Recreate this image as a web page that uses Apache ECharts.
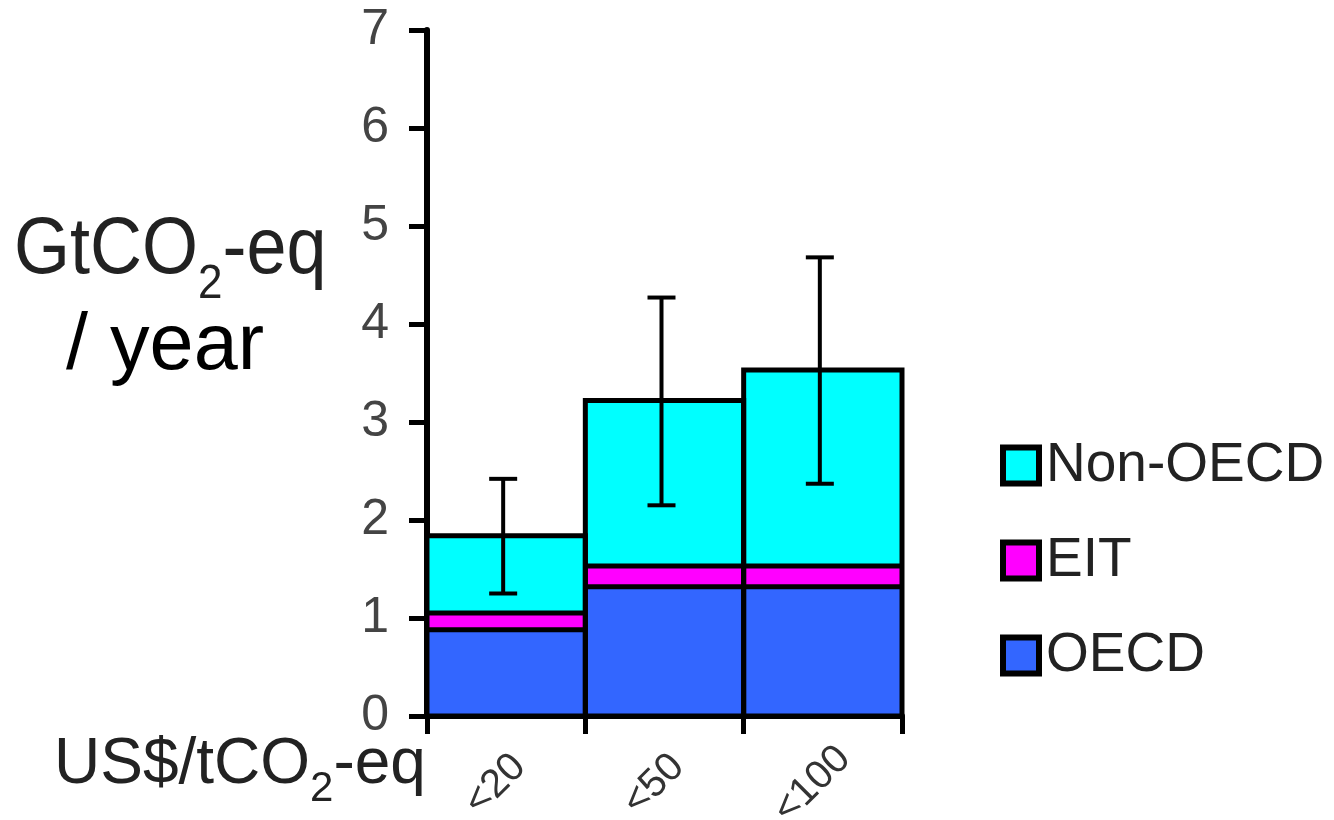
<!DOCTYPE html>
<html>
<head>
<meta charset="utf-8">
<script src="https://cdn.jsdelivr.net/npm/echarts@6/dist/echarts.min.js"></script>
<style>
html,body{margin:0;padding:0;background:#fff;}
#chart{width:1334px;height:820px;}
</style>
</head>
<body>
<div id="chart"></div>
<script>
const categories = ['<20', '<50', '<100'];
const seriesNames = ['OECD', 'EIT', 'Non-OECD'];
const oecd = [0.88, 1.32, 1.32];
const eit = [0.17, 0.21, 0.21];
const nonOecd = [0.79, 1.69, 2.00];
const errLow = [1.25, 2.15, 2.37];
const errHigh = [2.42, 4.27, 4.68];
const yTicks = [0, 1, 2, 3, 4, 5, 6, 7];
const colors = ['#3366FF', '#FF00FF', '#00FFFF'];

const FONT = 'Liberation Sans, Arial, sans-serif';
const chart = echarts.init(document.getElementById('chart'));

const errData = categories.map((c, i) => [i, errLow[i], errHigh[i]]);
const outlineData = categories.map((c, i) => [i, oecd[i], oecd[i] + eit[i], oecd[i] + eit[i] + nonOecd[i]]);

chart.setOption({
  animation: false,
  grid: { left: 427, right: 432, top: 30, bottom: 104, containLabel: false, outerBoundsMode: 'none' },
  legend: {
    orient: 'vertical',
    left: 1000,
    top: 438,
    padding: 0,
    itemWidth: 36,
    itemHeight: 36,
    itemGap: 40,
    icon: 'rect',
    data: ['Non-OECD', 'EIT', 'OECD'],
    itemStyle: { borderColor: '#000', borderWidth: 6 },
    textStyle: { fontFamily: FONT, fontSize: 55, color: '#222', padding: [0, 0, 0, 2] }
  },
  xAxis: {
    type: 'category',
    data: categories,
    axisLine: { lineStyle: { color: '#000', width: 6 } },
    axisTick: { show: true, length: 18, lineStyle: { color: '#000', width: 5 } },
    axisLabel: {
      rotate: 45,
      align: 'center',
      verticalAlign: 'middle',
      margin: 58,
      padding: [0, 30, 0, 0],
      fontFamily: FONT,
      fontSize: 40,
      color: '#333'
    },
    splitLine: { show: false }
  },
  yAxis: {
    type: 'value',
    min: 0,
    max: 7,
    interval: 1,
    axisLine: { show: true, lineStyle: { color: '#000', width: 6 } },
    axisTick: { show: true, length: 18, lineStyle: { color: '#000', width: 5 } },
    axisLabel: {
      margin: 38,
      fontFamily: FONT,
      fontSize: 50,
      color: '#444',
      formatter: (v) => yTicks.includes(v) ? String(v) : ''
    },
    splitLine: { show: false }
  },
  graphic: [
    {
      type: 'text', left: 14, top: 212, scaleY: 1.1,
      style: {
        text: 'GtCO{sub|2}-eq',
        fontFamily: FONT, fontSize: 72, fill: '#222', lineHeight: 72,
        rich: { sub: { fontFamily: FONT, fontSize: 44, fill: '#222', lineHeight: 44, verticalAlign: 'top', padding: [44, 0, 0, 0] } }
      }
    },
    {
      type: 'text', left: 66, top: 308, scaleX: 1.1, scaleY: 1.1,
      style: { text: '/ year', fontFamily: FONT, fontSize: 72, fill: '#000' }
    },
    {
      type: 'text', left: 54, top: 732,
      style: {
        text: 'US$/tCO{sub|2}-eq',
        fontFamily: FONT, fontSize: 64, fill: '#222', lineHeight: 66,
        rich: { sub: { fontFamily: FONT, fontSize: 42, fill: '#222', lineHeight: 42, verticalAlign: 'top', padding: [36, 0, 0, 0] } }
      }
    }
  ],
  series: [
    { name: 'OECD', type: 'bar', stack: 'total', data: oecd, barCategoryGap: '0%', itemStyle: { color: colors[0], borderWidth: 0 } },
    { name: 'EIT', type: 'bar', stack: 'total', data: eit, barCategoryGap: '0%', itemStyle: { color: colors[1], borderWidth: 0 } },
    { name: 'Non-OECD', type: 'bar', stack: 'total', data: nonOecd, barCategoryGap: '0%', itemStyle: { color: colors[2], borderWidth: 0 } },
    {
      name: 'outline', type: 'custom', data: outlineData, z: 5, silent: true,
      renderItem: (params, api) => {
        const idx = api.value(0);
        const base = api.coord([idx, 0]);
        const bw = api.size([1, 0])[0];
        const y1 = api.coord([idx, api.value(1)])[1];
        const y2 = api.coord([idx, api.value(2)])[1];
        const yt = api.coord([idx, api.value(3)])[1];
        const xl = base[0] - bw / 2, xr = base[0] + bw / 2;
        const st = { stroke: '#000', lineWidth: 5, fill: null };
        return {
          type: 'group',
          children: [
            { type: 'rect', shape: { x: xl, y: yt, width: bw, height: base[1] - yt }, style: st },
            { type: 'line', shape: { x1: xl, y1: y1, x2: xr, y2: y1 }, style: st },
            { type: 'line', shape: { x1: xl, y1: y2, x2: xr, y2: y2 }, style: st }
          ]
        };
      }
    },
    {
      name: 'error', type: 'custom', data: errData, z: 10, silent: true,
      renderItem: (params, api) => {
        const lo = api.coord([api.value(0), api.value(1)]);
        const hi = api.coord([api.value(0), api.value(2)]);
        const x = lo[0] - 3;
        const hw = 14;
        const st = { stroke: '#000', lineWidth: 4 };
        return {
          type: 'group',
          children: [
            { type: 'line', shape: { x1: x, y1: lo[1], x2: x, y2: hi[1] }, style: st },
            { type: 'line', shape: { x1: x - hw, y1: lo[1], x2: x + hw, y2: lo[1] }, style: st },
            { type: 'line', shape: { x1: x - hw, y1: hi[1], x2: x + hw, y2: hi[1] }, style: st }
          ]
        };
      }
    }
  ]
});
</script>
</body>
</html>
